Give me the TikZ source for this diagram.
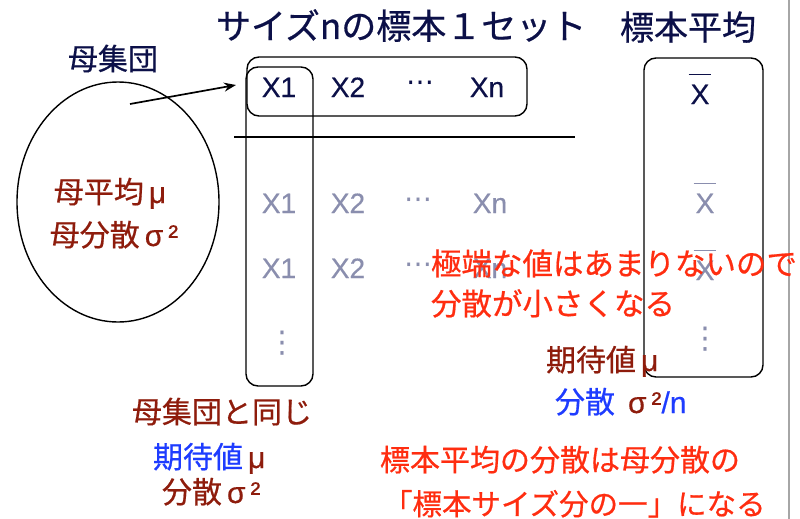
\documentclass[tikz,border=0pt]{standalone}
\usepackage{fontspec}
\setmainfont[FakeBold=0.4]{Liberation Sans}
\newfontfamily\cjk[FakeBold=0.6]{Noto Sans CJK JP}
\newfontfamily\dvs{DejaVu Sans}
\usetikzlibrary{arrows.meta}
\definecolor{navy}{HTML}{0C1048}
\definecolor{grayx}{HTML}{8A8EAE}
\definecolor{dred}{HTML}{8E1C0C}
\definecolor{bred}{HTML}{FF2D10}
\definecolor{bblue}{HTML}{1E3CFF}
\newcommand\xb{\setbox0\hbox{X}\makebox[0pt][l]{\hspace*{-2pt}\rule[1.02em]{\dimexpr\wd0+4pt\relax}{1.8pt}}X}
\tikzset{
  t/.style={inner sep=0pt, outer sep=0pt},
  ttl/.style={t, anchor=base west, text=navy, font=\cjk\fontsize{35}{40}\selectfont},
  jp/.style={t, anchor=base west, font=\cjk\fontsize{30}{35}\selectfont},
  mx/.style={t, font=\fontsize{30}{35}\selectfont},
  lat/.style={t, anchor=base, font=\fontsize{28}{32}\selectfont},
  dk/.style={lat, text=navy},
  gy/.style={lat, text=grayx},
  hdots/.style={t, anchor=base, font=\dvs\fontsize{28}{32}\selectfont},
  vdots/.style={t, text=grayx, font=\dvs\fontsize{30}{34}\selectfont},
  box/.style={draw=black, line width=1.4pt, rounded corners=12pt, inner sep=0pt},
}
\begin{document}
\begin{tikzpicture}[x=1pt,y=-1pt]
\useasboundingbox (0,0) rectangle (800,519);
\fill[white] (0,0) rectangle (800,519);
\draw[gray!70, line width=1.2pt] (789,0) -- (789,519);

% titles
\node[ttl] (title) at (216,39) {サイズnの標本１セット};
\node[ttl, font=\cjk\fontsize{34}{40}\selectfont] (mtitle) at (620,40) {標本平均};
\node[jp, text=navy] (pop) at (68,70) {母集団};

% population ellipse
\draw[line width=1.4pt] (118,202) ellipse [x radius=101, y radius=120];
\node[mx, anchor=base, text=dred] (pmean) at (110,203) {{\cjk 母平均}\,μ};
\node[mx, anchor=base, text=dred] (pvar) at (114,246) {{\cjk 母分散}\,σ\,²};

% boxes
\node[box, minimum width=280pt, minimum height=59pt] (rowbox) at (387,86.5) {};
\node[box, minimum width=67pt, minimum height=319pt] (colbox) at (279.5,226.5) {};
\node[box, minimum width=119pt, minimum height=319pt] (meanbox) at (703.5,217.5) {};
\draw[line width=2pt] (234,137) coordinate (hl1) -- (575,137) coordinate (hl2);

% row 1
\node[dk] (a1) at (279,97) {X1};
\node[dk] (a2) at (348,97) {X2};
\node[hdots, text=navy] (a3) at (420,92) {⋯};
\node[dk] (a4) at (487,97) {Xn};
\node[dk] (m1) at (700,104) {\xb};

% row 2
\node[gy] (b1) at (279,213) {X1};
\node[gy] (b2) at (348,213) {X2};
\node[hdots, text=grayx] (b3) at (418,208) {⋯};
\node[gy] (b4) at (490,213) {Xn};
\node[gy] (m2) at (705,213) {\xb};

% row 3
\node[gy] (c1) at (279,278) {X1};
\node[gy] (c2) at (348,278) {X2};
\node[hdots, text=grayx] (c3) at (418,273) {⋯};
\node[gy] (c4) at (490,278) {Xn};
\node[gy] (m3) at (705,280) {\xb};

% vertical dots
\node[vdots] (vd1) at (282,343) {⋮};
\node[vdots] (vd2) at (705,339) {⋮};

% arrow
\coordinate (as) at (130,104);
\coordinate (ae) at (236,85);
\draw[line width=1.7pt, -{Stealth[length=12pt,width=9pt]}] (as) -- (ae);

% red notes
\node[jp, text=bred, font=\cjk\fontsize{30.5}{35}\selectfont] (n1) at (431,275) {極端な値はあまりないので};
\node[jp, text=bred, font=\cjk\fontsize{30.5}{35}\selectfont] (n2) at (431,315) {分散が小さくなる};
\node[jp, text=bred] (n3) at (380,471) {標本平均の分散は母分散の};
\node[jp, text=bred, font=\cjk\fontsize{29.5}{35}\selectfont] (n4) at (383,515) {「標本サイズ分の一」になる};

% sample mean stats
\node[mx, anchor=base west, text=dred] (e1) at (546,371) {{\cjk 期待値}\,μ};
\node[mx, anchor=base west] (e2) at (555,413) {{\color{bblue}\cjk 分散}\hspace{13pt}{\color{dred}σ\,²}{\color{bblue}/n}};

% sample stats
\node[jp, text=dred] (s0) at (132,423) {母集団と同じ};
\node[mx, anchor=base west] (s1) at (153,468) {{\color{bblue}\cjk 期待値}\,{\color{dred}μ}};
\node[mx, anchor=base west, text=dred] (s2) at (162,503) {{\cjk 分散}\,σ\,²};
\end{tikzpicture}
\end{document}
